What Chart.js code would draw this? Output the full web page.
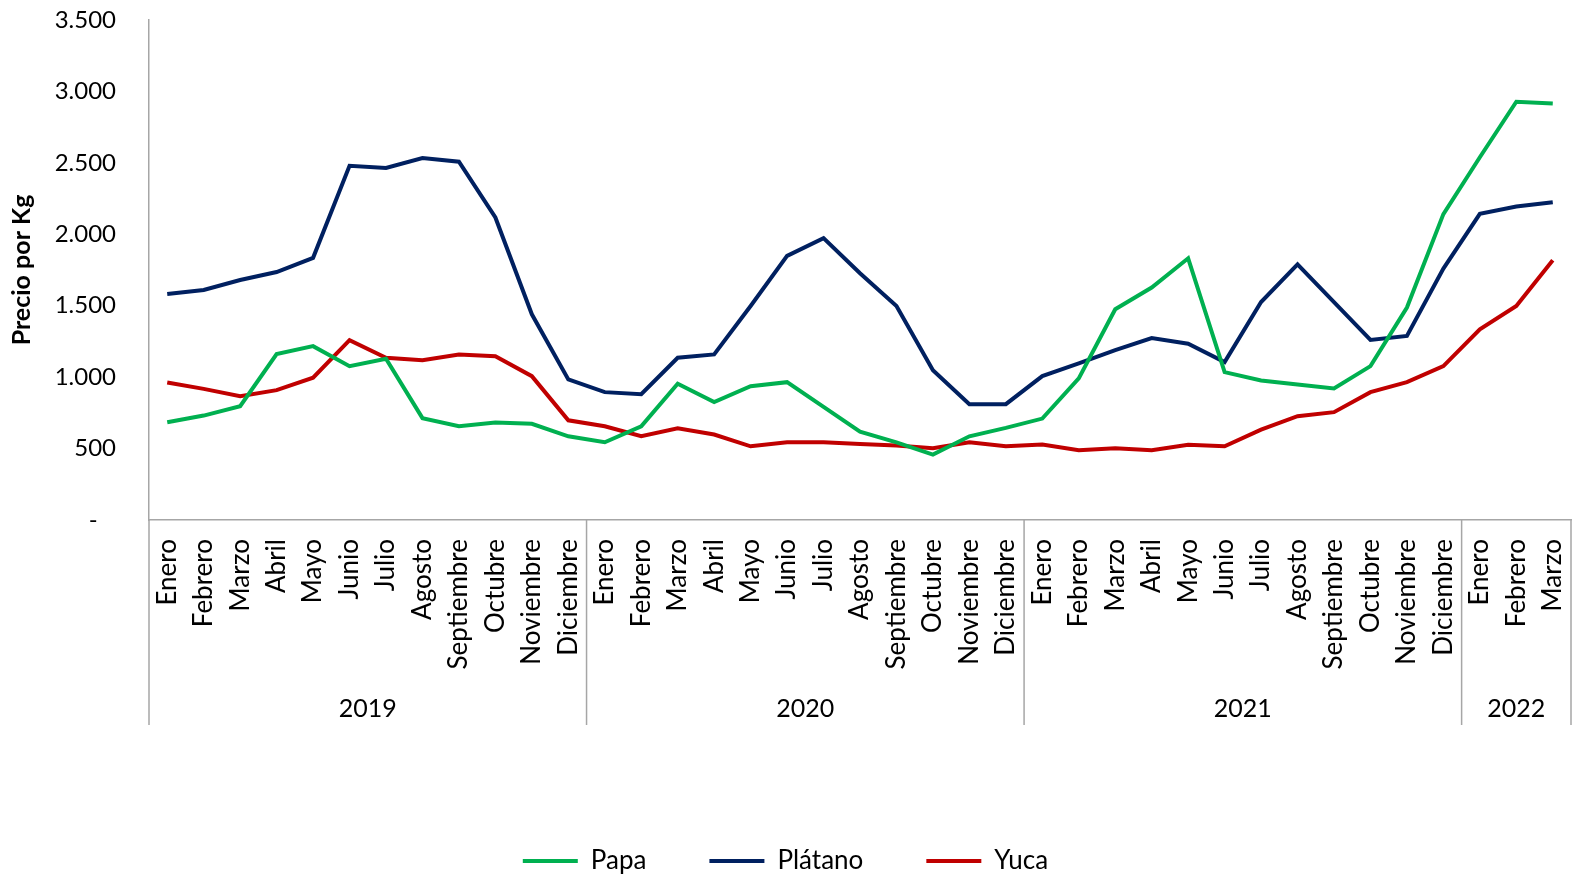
<!DOCTYPE html>
<html>
<head>
<meta charset="utf-8">
<script src="https://cdn.jsdelivr.net/npm/chart.js@4.4.1/dist/chart.umd.min.js"></script>
<style>
  html, body { margin: 0; padding: 0; background: #ffffff; }
  canvas { display: block; }
</style>
</head>
<body>
<canvas id="chart" width="1575" height="874"></canvas>
<script>
// Precio por Kg, mensual 2019 - mar 2022
const months = [
  "Enero", "Febrero", "Marzo", "Abril", "Mayo", "Junio", "Julio", "Agosto", "Septiembre", "Octubre", "Noviembre", "Diciembre",
  "Enero", "Febrero", "Marzo", "Abril", "Mayo", "Junio", "Julio", "Agosto", "Septiembre", "Octubre", "Noviembre", "Diciembre",
  "Enero", "Febrero", "Marzo", "Abril", "Mayo", "Junio", "Julio", "Agosto", "Septiembre", "Octubre", "Noviembre", "Diciembre",
  "Enero", "Febrero", "Marzo",
]
const years = ["2019", "2020", "2021", "2022"]
const monthsPerYear = [12, 12, 12, 3]

const papa = [
  684, 731, 797, 1161, 1217, 1077, 1129, 713, 657, 682, 673, 586,
  544, 656, 954, 825, 937, 965, 792, 619, 544, 458, 586, 645,
  710, 991, 1475, 1627, 1832, 1035, 977, 949, 921, 1077, 1487, 2141,
  2539, 2928, 2915,
]
const platano = [
  1582, 1610, 1680, 1736, 1835, 2480, 2464, 2534, 2508, 2118, 1440, 984,
  895, 881, 1136, 1159, 1498, 1849, 1973, 1727, 1498, 1049, 811, 811,
  1007, 1096, 1189, 1274, 1234, 1105, 1526, 1790, 1525, 1260, 1288, 1760,
  2143, 2195, 2225,
]
const yuca = [
  963, 918, 867, 909, 996, 1259, 1136, 1119, 1159, 1147, 1007, 698,
  656, 586, 642, 598, 516, 544, 544, 532, 521, 502, 544, 516,
  528, 488, 502, 488, 526, 516, 633, 727, 755, 895, 965, 1077,
  1334, 1498, 1818,
]

const FONT = "Lato"
const AXIS_GREY = "#a6a6a6"

// thousands with a dot, zero shown as a dash (accounting style, sits a bit left)
function formatTick(value) {
  if (value === 0) return "-   "
  return String(value).replace(/\B(?=(\d{3})+(?!\d))/g, ".")
}

// second level of the category axis: year names and the group separators
const yearAxisPlugin = {
  id: "yearAxis",
  afterDraw(chart) {
    const ctx = chart.ctx
    const x = chart.scales.x
    const bottom = chart.chartArea.bottom
    const step = x.getPixelForValue(1) - x.getPixelForValue(0)
    let start = 0
    ctx.save()
    ctx.strokeStyle = AXIS_GREY
    ctx.lineWidth = 1.5
    ctx.fillStyle = "#000000"
    ctx.font = "25px " + FONT
    ctx.textAlign = "center"
    ctx.textBaseline = "middle"
    years.forEach((year, i) => {
      const left = x.getPixelForValue(start) - step / 2
      const right = x.getPixelForValue(start + monthsPerYear[i] - 1) + step / 2
      ctx.beginPath()
      ctx.moveTo(left, bottom)
      ctx.lineTo(left, bottom + 205)
      ctx.stroke()
      if (i === years.length - 1) {
        ctx.beginPath()
        ctx.moveTo(right, bottom)
        ctx.lineTo(right, bottom + 205)
        ctx.stroke()
      }
      ctx.fillText(year, (left + right) / 2, bottom + 189)
      start += monthsPerYear[i]
    })
    ctx.restore()
  },
}

function createLineChart() {
  const ctx = document.getElementById("chart").getContext("2d")

  new Chart(ctx, {
    type: "line",
    data: {
      labels: months,
      datasets: [
        { label: "Papa", data: papa, borderColor: "#00B050", backgroundColor: "#00B050" },
        { label: "Plátano", data: platano, borderColor: "#002060", backgroundColor: "#002060" },
        { label: "Yuca", data: yuca, borderColor: "#C00000", backgroundColor: "#C00000" },
      ].map((ds) => ({
        ...ds,
        borderWidth: 4,
        pointRadius: 0,
        pointStyle: "line",
        tension: 0,
        fill: false,
      })),
    },
    options: {
      responsive: false,
      animation: false,
      devicePixelRatio: 1,
      layout: {
        padding: { top: 20, right: 4, left: 0, bottom: 0 },
      },
      plugins: {
        legend: {
          position: "bottom",
          maxHeight: 89,
          labels: {
            usePointStyle: true,
            pointStyleWidth: 55,
            padding: 63,
            color: "#000000",
            font: { family: FONT, size: 26 },
          },
        },
        tooltip: { enabled: false },
      },
      scales: {
        x: {
          offset: true,
          grid: { display: false, drawTicks: false, offset: true },
          border: { display: true, color: AXIS_GREY, width: 1.5 },
          ticks: {
            autoSkip: false,
            maxRotation: 90,
            minRotation: 90,
            padding: 19,
            color: "#000000",
            font: { family: FONT, size: 26 },
          },
          afterFit: (scale) => {
            const legendHeight = scale.chart.legend ? scale.chart.legend.height : 89
            scale.height = scale.chart.height - 520 - legendHeight
            scale.paddingLeft = 0
            scale.paddingRight = 0
          },
        },
        y: {
          min: 0,
          max: 3500,
          grid: { display: false, drawTicks: false },
          border: { display: true, color: AXIS_GREY, width: 1.5 },
          ticks: {
            stepSize: 500,
            padding: 33,
            color: "#000000",
            font: { family: FONT, size: 24 },
            callback: (value) => formatTick(value),
          },
          title: {
            display: true,
            text: "Precio por Kg",
            color: "#000000",
            font: { family: FONT, size: 25, weight: "bold" },
            padding: { top: 7, bottom: 0 },
          },
          afterFit: (scale) => {
            scale.width = 149
            scale.paddingTop = 0
            scale.paddingBottom = 0
          },
        },
      },
    },
    plugins: [yearAxisPlugin],
  })
}

document.addEventListener("DOMContentLoaded", () => {
  createLineChart()
})
</script>
</body>
</html>
